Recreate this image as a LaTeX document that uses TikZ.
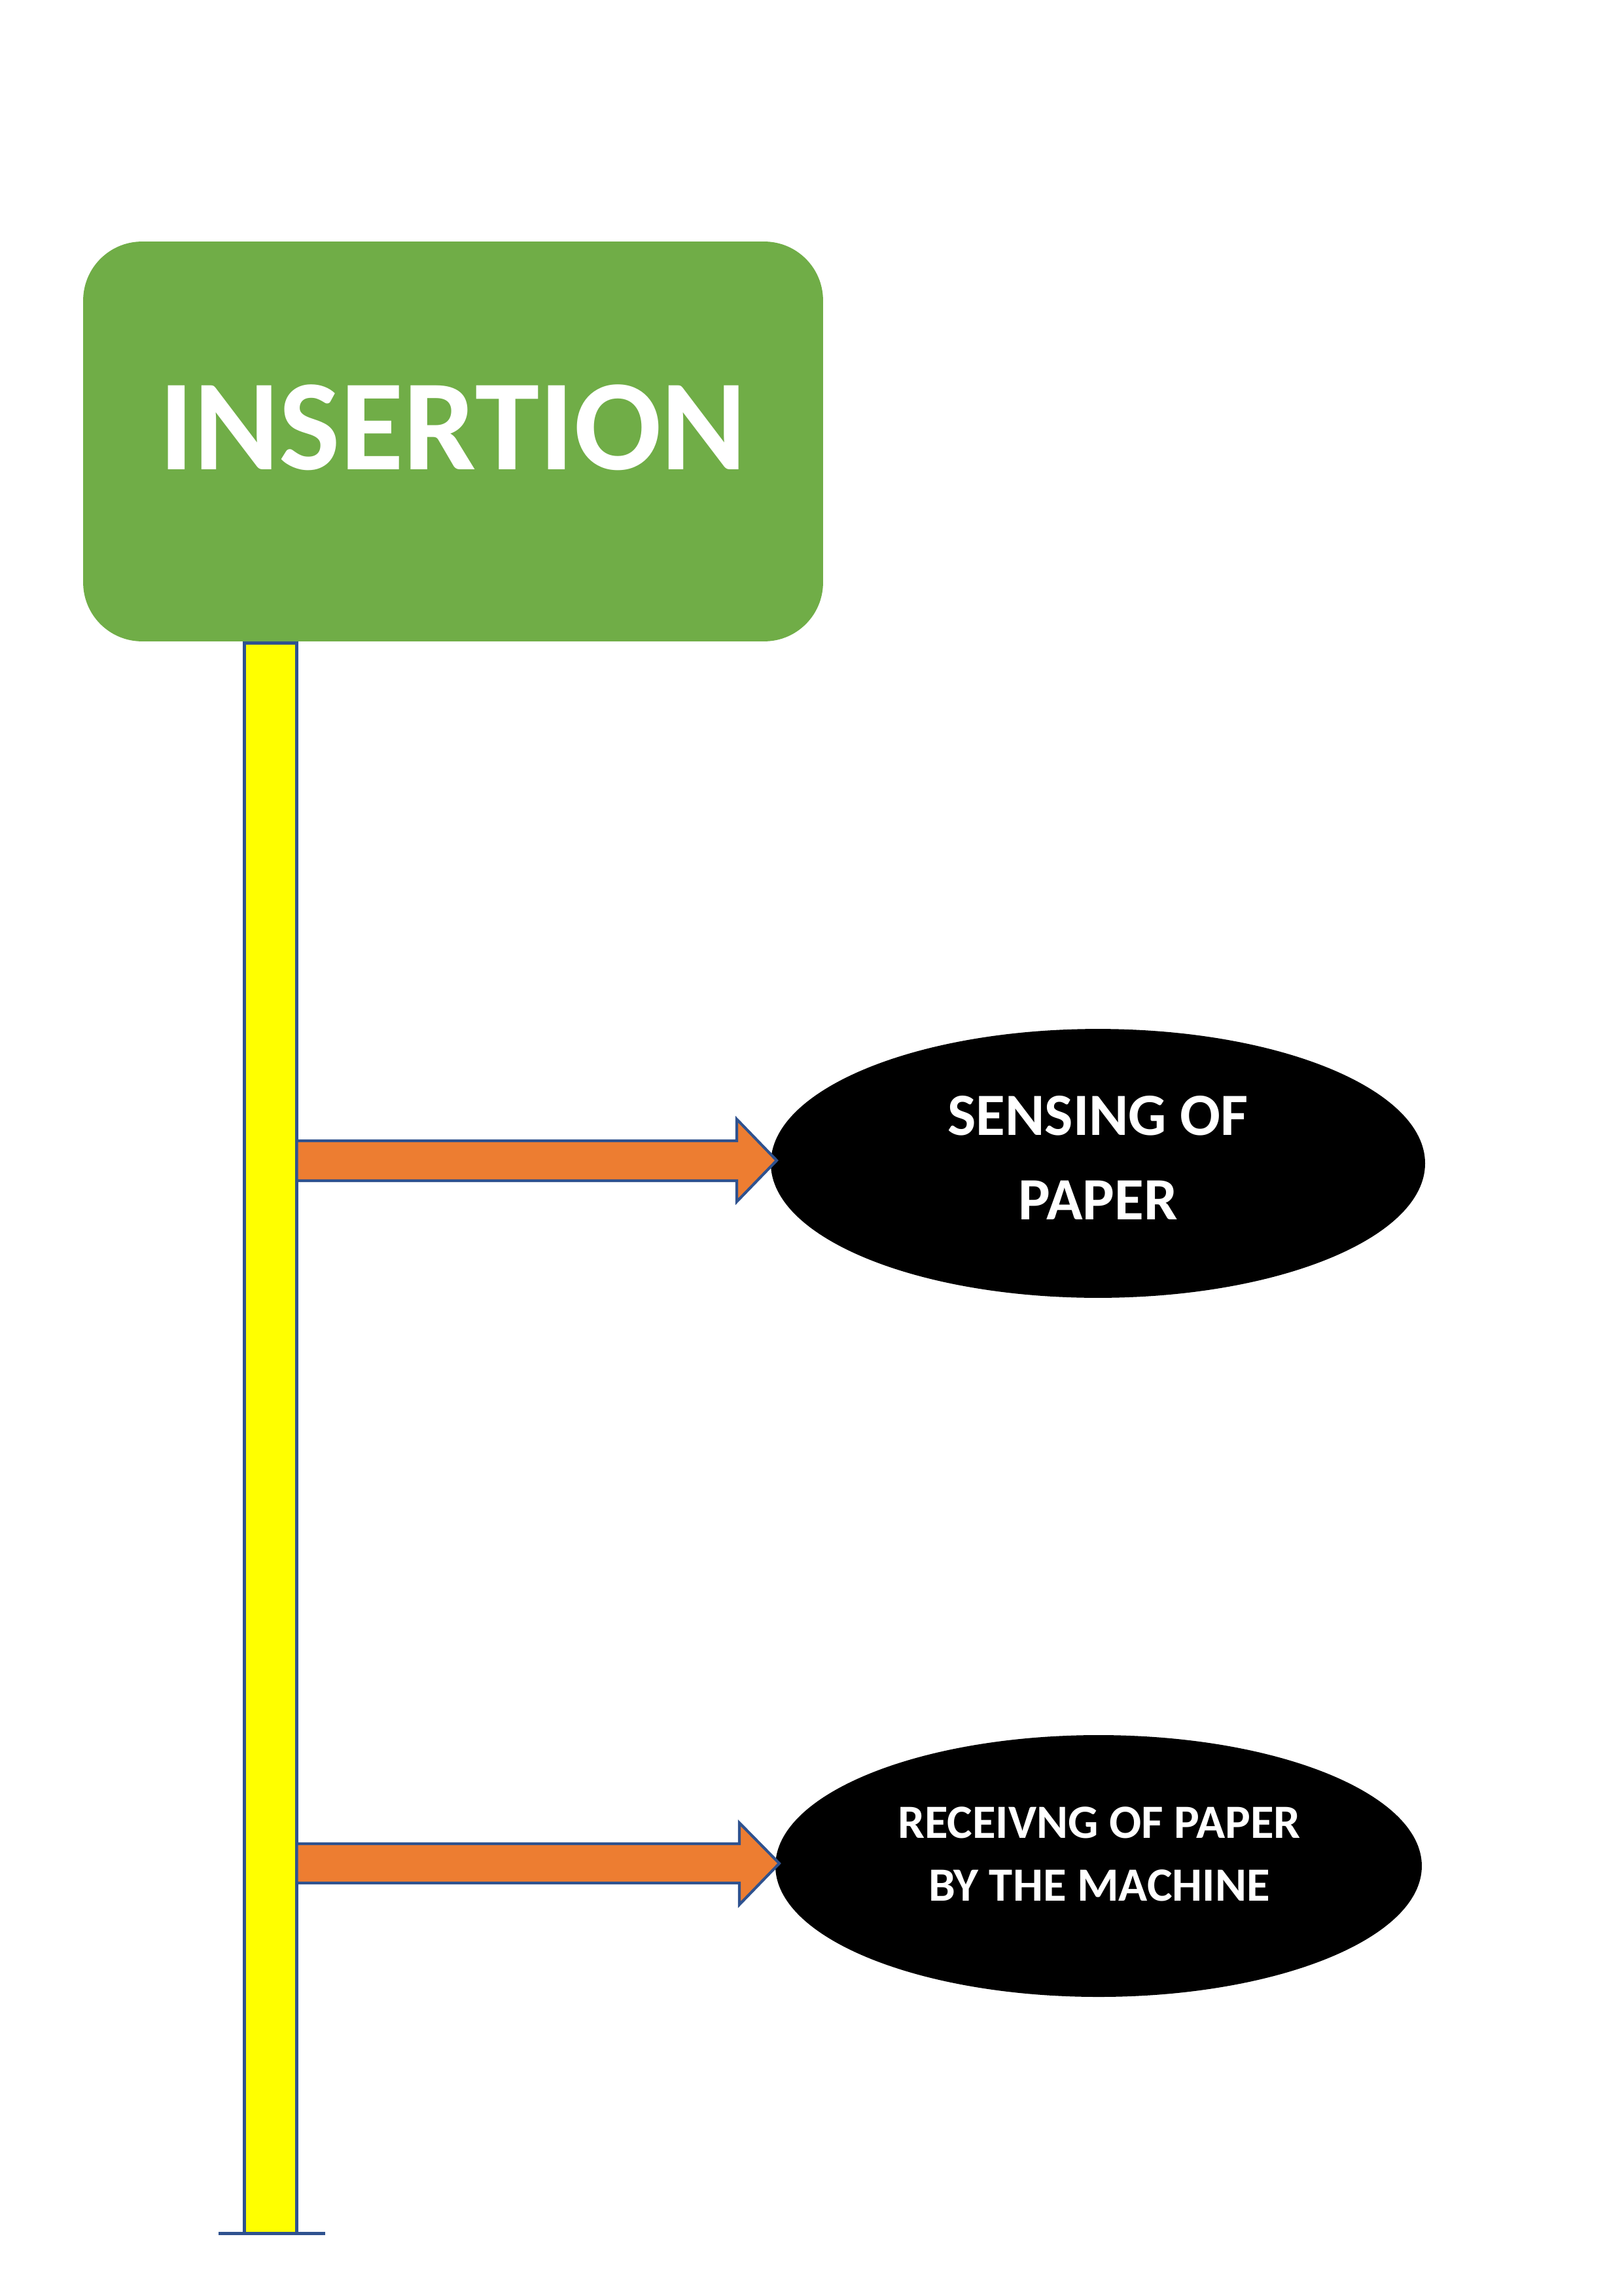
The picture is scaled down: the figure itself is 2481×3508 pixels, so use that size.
\documentclass[tikz,border=0pt]{standalone}
\usepackage{fontspec}
\setmainfont{Carlito}
\usetikzlibrary{shapes.geometric}
\definecolor{boxgreen}{HTML}{70AD47}
\definecolor{arroworange}{HTML}{ED7D31}
\definecolor{edgeblue}{HTML}{2F528F}
\definecolor{baryellow}{HTML}{FFFF00}
\begin{document}
\begin{tikzpicture}[x=0.24pt,y=-0.24pt,
  titlebox/.style={rectangle, fill=boxgreen, draw=none, rounded corners=21.6pt,
    minimum width=271.4pt, minimum height=146.6pt, inner sep=0pt},
  titletext/.style={text=white, font=\bfseries\fontsize{47.5}{56}\selectfont, inner sep=0pt},
  barbox/.style={rectangle, fill=baryellow, draw=edgeblue, line width=1.2pt, inner sep=0pt},
  baseline/.style={draw=edgeblue, line width=1.2pt},
  blockarrow/.style={fill=arroworange, draw=edgeblue, line width=1pt, line join=miter},
  bubble/.style={ellipse, fill=black, draw=none, inner sep=0pt},
  bubbletext/.style={text=white, align=center, inner sep=0pt}
]
\useasboundingbox[fill=white] (0,0) rectangle (2481,3508);

% title box
\node[titlebox] (ins) at (692.5,674.5) {};
\node[titletext] (inst) at (692,653) {INSERTION};

% vertical bar
\node[barbox, minimum width=19.2pt, minimum height=583.1pt] (bar) at (413.5,2197.2) {};
\coordinate (bl) at (334,3412);
\coordinate (br) at (497,3412);
\draw[baseline] (bl) -- (br);

% ellipses
\node[bubble, minimum width=240pt, minimum height=98.6pt] (e1) at (1678,1777.5) {};
\node[bubbletext, font=\bfseries\fontsize{22}{31}\selectfont] (t1) at (1678,1769) {SENSING OF\\PAPER};

\node[bubble, minimum width=237.1pt, minimum height=96pt] (e2) at (1679,2851) {};
\node[bubbletext, font=\bfseries\fontsize{17.5}{23}\selectfont] (t2) at (1680,2833) {RECEIVNG OF PAPER\\BY THE MACHINE};

% arrows
\coordinate (a1s1) at (453.5,1743);
\coordinate (a1s2) at (453.5,1804);
\coordinate (a1tip) at (1187,1773);
\draw[blockarrow] (a1s1) -- (1126,1743) -- (1126,1710) -- (a1tip) -- (1126,1836) -- (1126,1804) -- (a1s2) -- cycle;

\coordinate (a2s1) at (453.5,2817);
\coordinate (a2s2) at (453.5,2877);
\coordinate (a2tip) at (1191,2847);
\draw[blockarrow] (a2s1) -- (1130,2817) -- (1130,2785) -- (a2tip) -- (1130,2910) -- (1130,2877) -- (a2s2) -- cycle;
\end{tikzpicture}
\end{document}
